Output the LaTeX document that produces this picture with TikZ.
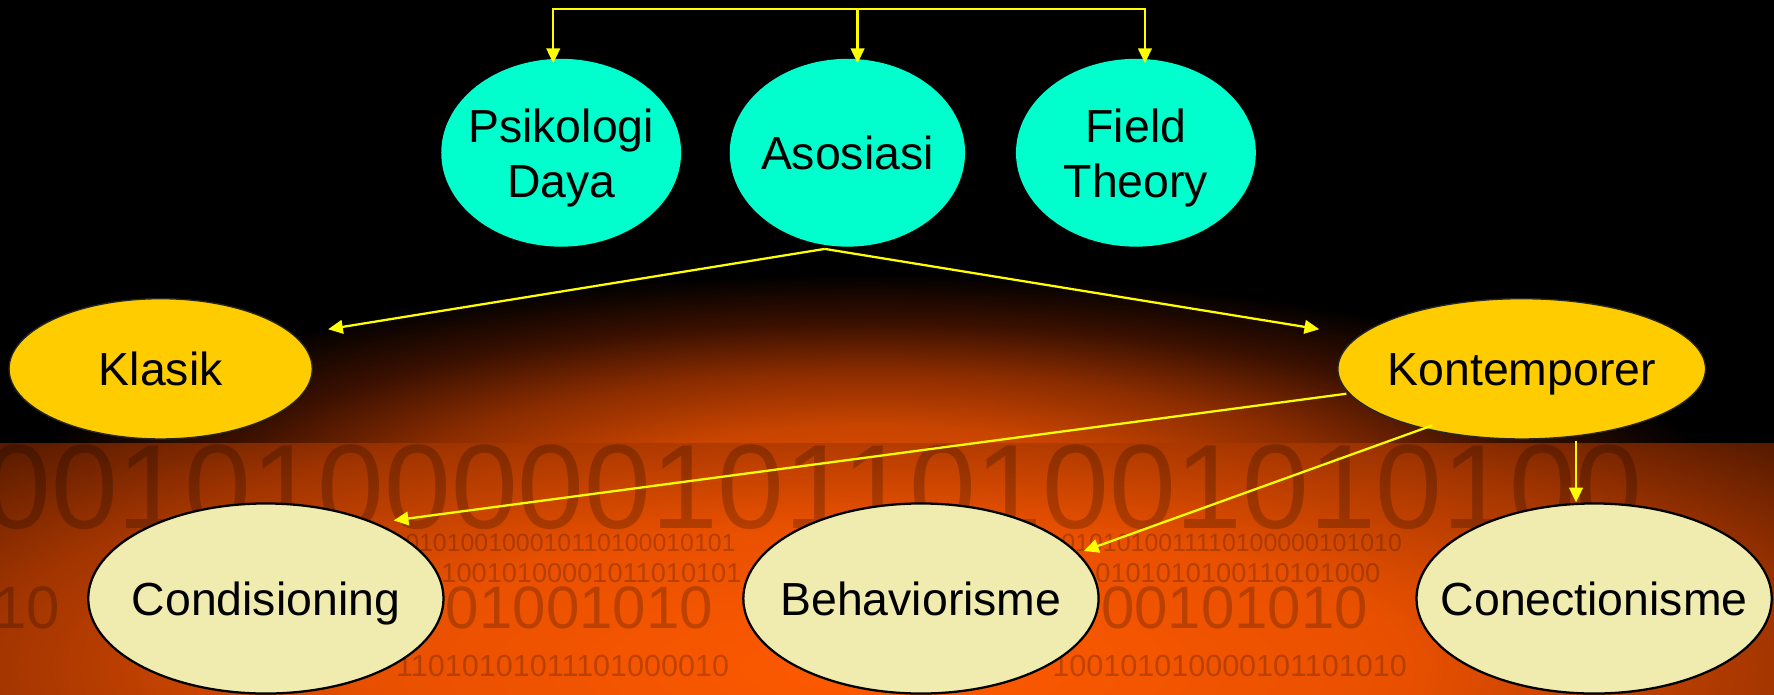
\documentclass[tikz,border=0pt]{standalone}
\usepackage{fontspec}
\setmainfont{Liberation Sans}
\usetikzlibrary{shapes.geometric,arrows.meta}
\definecolor{cyanfill}{HTML}{00FFCC}
\definecolor{goldfill}{HTML}{FFCC00}
\definecolor{palefill}{HTML}{F0EBAF}
\definecolor{arrowyellow}{HTML}{FFFF00}
\definecolor{gA}{HTML}{E05000}
\definecolor{gB}{HTML}{C84400}
\definecolor{gC}{HTML}{8A2C00}
\definecolor{gD}{HTML}{3A1000}
\definecolor{bA}{HTML}{FF5A00}
\definecolor{bB}{HTML}{E85000}
\definecolor{bC}{HTML}{A03400}
\definecolor{bD}{HTML}{3A1000}
\pgfdeclareradialshading{glow}{\pgfpoint{0bp}{0bp}}{color(0bp)=(gA); color(7.5bp)=(gB); color(13bp)=(gC); color(18bp)=(gD); color(23bp)=(black); color(50bp)=(black)}
\pgfdeclareradialshading{band}{\pgfpoint{0bp}{0bp}}{color(0bp)=(bA); color(10bp)=(bB); color(17.5bp)=(bC); color(25bp)=(bD); color(50bp)=(bD)}
\newcommand\onelab[1]{\makebox[0pt]{#1}}
\newcommand\twolab[2]{\makebox[0pt]{\begin{tabular}[t]{@{}c@{}}#1\\#2\end{tabular}}}
\tikzset{
  lbl/.style={font=\fontsize{41}{49}\selectfont, text=black, text height=29.4pt, text depth=0pt},
  lbltwo/.style={text height=30pt, text depth=48pt},
  topell/.style={lbl, ellipse, fill=cyanfill, minimum width=212pt, minimum height=166pt, inner sep=0pt},
  midell/.style={lbl, ellipse, fill=goldfill, draw=black!85, line width=1.2pt, minimum height=124pt, inner sep=0pt},
  lowell/.style={lbl, ellipse, fill=palefill, draw=black, line width=2pt, minimum width=314pt, minimum height=168pt, inner sep=0pt},
  arr/.style={draw=arrowyellow, line width=2pt, -{Triangle[length=13pt,width=12pt]}},
  bin/.style={anchor=west, inner sep=0pt, text=black, text opacity=0.22},
}
\begin{document}
\begin{tikzpicture}[x=1pt,y=-1pt]
\useasboundingbox (0,0) rectangle (1568,614);
\begin{scope}
\clip (0,0) rectangle (1568,614);
\fill[black] (0,0) rectangle (1568,614);
\shade[shading=glow] (770,440) ellipse [x radius=820, y radius=215];
\begin{scope}
\clip (0,392) rectangle (1568,614);
\shade[shading=band] (784,590) ellipse [x radius=1150, y radius=320];
\end{scope}
% background binary digits
\node[bin, font=\fontsize{106}{106}\selectfont] (bina) at (-14,431) {0010100000101101001010100};
\node[bin, font=\fontsize{22}{22}\selectfont] (binb1) at (358,480) {010100100010110100010101};
\node[bin, font=\fontsize{22}{22}\selectfont] (binb2) at (938,480) {0101010011110100000101010};
\node[bin, font=\fontsize{24}{24}\selectfont] (binc1) at (390,507) {10010100001011010101};
\node[bin, font=\fontsize{24}{24}\selectfont] (binc2) at (968,507) {0101010100110101000};
\node[bin, font=\fontsize{53}{53}\selectfont] (bind0) at (-6,537) {10};
\node[bin, font=\fontsize{53}{53}\selectfont] (bind1) at (394,537) {01001010};
\node[bin, font=\fontsize{53}{53}\selectfont] (bind2) at (973,537) {00101010};
\node[bin, font=\fontsize{27}{27}\selectfont] (bine1) at (350,589) {11010101011101000010};
\node[bin, font=\fontsize{27}{27}\selectfont] (bine2) at (930,589) {100101010000101101010};
\end{scope}
% top row
\node[topell, lbltwo] (psi) at (496,135) {\twolab{Psikologi}{Daya}};
\node[topell, minimum width=208pt] (aso) at (749,135) {\onelab{Asosiasi}};
\node[topell, lbltwo] (fld) at (1004,135) {\twolab{Field}{Theory}};
% middle row
\node[midell, minimum width=268pt] (kla) at (142,326) {\onelab{Klasik}};
\node[midell, minimum width=325pt] (kon) at (1345,326) {\onelab{Kontemporer}};
% bottom row
\node[lowell] (cond) at (235,529) {\onelab{Condisioning}};
\node[lowell] (beh) at (814,529) {\onelab{Behaviorisme}};
\node[lowell] (con) at (1409,529) {\onelab{Conectionisme}};
% top bracket
\coordinate (bar) at (758,8);
\draw[arr] (bar) -- ([xshift=9,yshift=-4]aso.north);
\draw[arr] (bar) -| ([xshift=-7,yshift=-4]psi.north);
\draw[arr] (bar) -| ([xshift=8,yshift=-4]fld.north);
% Asosiasi branches
\draw[arr] ([shift={(-20,85)}]aso.center) -- ([shift={(148,-35)}]kla.center);
\draw[arr] ([shift={(-20,85)}]aso.center) -- ([shift={(-179,-35)}]kon.center);
% Kontemporer branches
\draw[arr] ([shift={(-155,22)}]kon.center) -- ([shift={(113,-69)}]cond.center);
\draw[arr] ([shift={(-79,50)}]kon.center) -- ([shift={(144,-42)}]beh.center);
\draw[arr] ([shift={(48,64)}]kon.center) -- ([shift={(-16,-85)}]con.center);
\end{tikzpicture}
\end{document}
